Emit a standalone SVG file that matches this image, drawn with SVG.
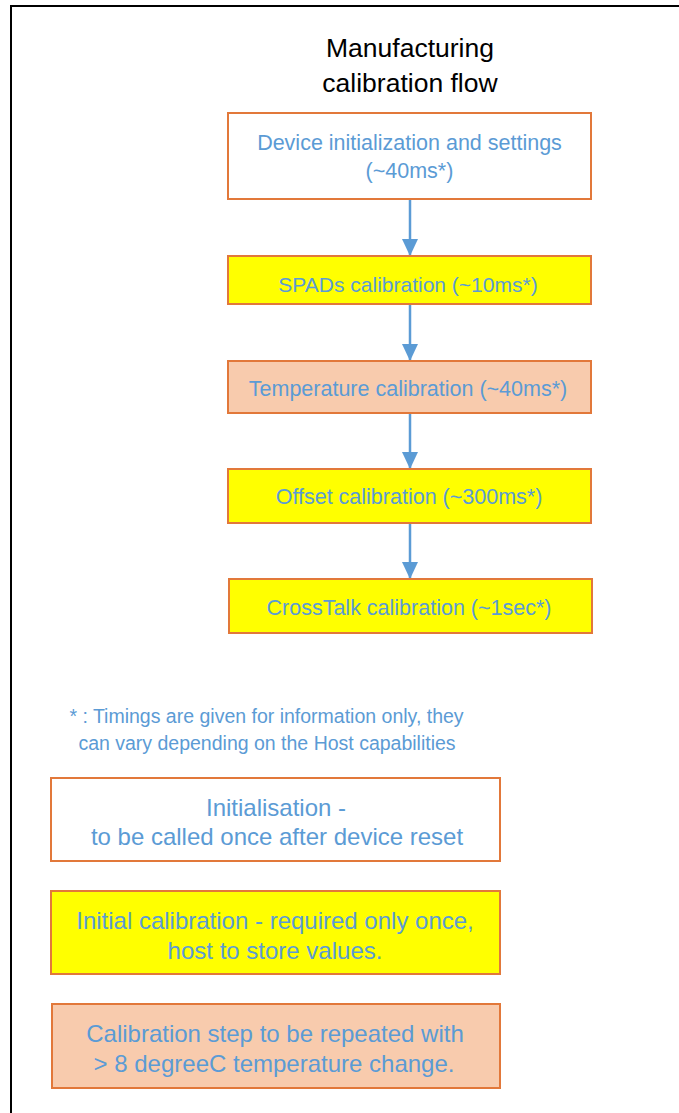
<svg xmlns="http://www.w3.org/2000/svg" width="679" height="1113" viewBox="0 0 679 1113">
<style>
.box{stroke:#E2783A;stroke-width:2}
.w{fill:#FFFFFF}
.y{fill:#FFFF00}
.p{fill:#F8CBAD}
.t{font-family:"Liberation Sans",Arial,sans-serif;fill:#5B9BD5;text-anchor:middle}
.title{font-family:"Liberation Sans",Arial,sans-serif;fill:#000000;text-anchor:middle;font-size:26.5px}
.conn{stroke:#5B9BD5;stroke-width:2.5;fill:none}
</style>
<defs>
<marker id="ah" markerUnits="userSpaceOnUse" markerWidth="17" markerHeight="18" refX="17" refY="8.5" orient="auto" viewBox="0 0 18 17">
<path d="M0,0 L18,8.5 L0,17 Z" fill="#5B9BD5"/>
</marker>
</defs>
<rect x="0" y="0" width="679" height="1113" fill="#FFFFFF"/>
<g id="frame">
<path d="M11,1113 V6 H679" fill="none" stroke="#000000" stroke-width="2"/>
</g>
<g id="title">
<text class="title" x="410" y="57">Manufacturing</text>
<text class="title" x="410" y="92">calibration flow</text>
</g>
<g id="connectors">
<line class="conn" x1="410" y1="199" x2="410" y2="255" marker-end="url(#ah)"/>
<line class="conn" x1="410" y1="304" x2="410" y2="360" marker-end="url(#ah)"/>
<line class="conn" x1="410" y1="413" x2="410" y2="468" marker-end="url(#ah)"/>
<line class="conn" x1="410" y1="523" x2="410" y2="578" marker-end="url(#ah)"/>
</g>
<g id="n-init">
<rect class="box w" x="228" y="113" width="363" height="86"/>
<text class="t" x="409.5" y="150" font-size="21.5">Device initialization and settings</text>
<text class="t" x="409.5" y="178" font-size="21.5">(~40ms*)</text>
</g>
<g id="n-spads">
<rect class="box y" x="228" y="256" width="363" height="48"/>
<text class="t" x="408" y="292" font-size="21">SPADs calibration (~10ms*)</text>
</g>
<g id="n-temp">
<rect class="box p" x="228" y="361" width="363" height="52"/>
<text class="t" x="408" y="396" font-size="21.5">Temperature calibration (~40ms*)</text>
</g>
<g id="n-offset">
<rect class="box y" x="228" y="469" width="363" height="54"/>
<text class="t" x="409" y="504" font-size="21.5">Offset calibration (~300ms*)</text>
</g>
<g id="n-xtalk">
<rect class="box y" x="229" y="579" width="363" height="54"/>
<text class="t" x="409" y="615" font-size="21.5">CrossTalk calibration (~1sec*)</text>
</g>
<g id="note">
<text class="t" x="266.5" y="723" font-size="19.5">* : Timings are given for information only, they</text>
<text class="t" x="267" y="750" font-size="19.5">can vary depending on the Host capabilities</text>
</g>
<g id="legend-init">
<rect class="box w" x="51" y="778" width="449" height="83"/>
<text class="t" x="276" y="816" font-size="24">Initialisation -</text>
<text class="t" x="277" y="845" font-size="24">to be called once after device reset</text>
</g>
<g id="legend-initial">
<rect class="box y" x="51" y="891" width="449" height="83"/>
<text class="t" x="275" y="929" font-size="24">Initial calibration - required only once,</text>
<text class="t" x="275" y="959" font-size="24">host to store values.</text>
</g>
<g id="legend-repeat">
<rect class="box p" x="52" y="1004" width="448" height="84"/>
<text class="t" x="275" y="1042" font-size="24">Calibration step to be repeated with</text>
<text class="t" x="274" y="1072" font-size="24">&gt; 8 degreeC temperature change.</text>
</g>
</svg>
